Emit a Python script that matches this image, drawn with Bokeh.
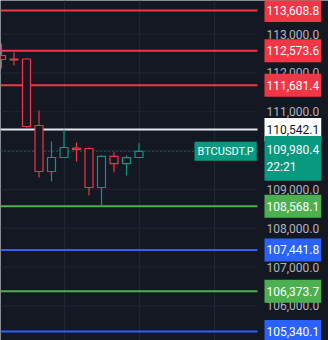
from bokeh.plotting import figure
from bokeh.models import ColumnDataSource, Label, FixedTicker, Grid, Range1d
from bokeh.core.properties import value
from bokeh.embed import file_html
from bokeh.resources import INLINE

# ---- data ----
candle_idx = [0, 1, 2, 3, 4, 5, 6, 7, 8, 9, 10, 11]
opens  = [112449, 112359, 112359, 110646, 109461, 109822, 110061, 110054, 109049, 109852, 109662, 109822]
highs  = [112758, 112526, 112372, 111032, 110234, 110543, 110208, 110079, 109873, 109958, 109873, 110190]
lows   = [112114, 112192, 110594, 109307, 109203, 109822, 109719, 108843, 108560, 109443, 109358, 109822]
closes = [112346, 112333, 110620, 109461, 109822, 110079, 110028, 109049, 109852, 109662, 109817, 109980.4]

level_prices = [113608.8, 112573.6, 111681.4, 110542.1, 108568.1, 107441.8, 106373.7, 105340.1]
level_kinds = ["res", "res", "res", "pivot", "sup", "deep", "sup", "deep"]

current_price = 109980.4
current_countdown = "22:21"
symbol = "BTCUSDT.P"

price_ticks = [106000, 107000, 108000, 109000, 111000, 112000, 113000]
grid_ticks_y = [106000, 107000, 108000, 109000, 110000, 111000, 112000, 113000]
grid_ticks_x = [5, 11, 17]

# ---- styles / layout ----
BG = "#141823"
GRID = "#222632"
RED = "#f23645"
GREEN_C = "#089981"
kind_line = {"res": RED, "pivot": "#e6e8ee", "sup": "#4caf50", "deep": "#2962ff"}
kind_box = {"res": RED, "pivot": "#ffffff", "sup": "#4caf50", "deep": "#2962ff"}
kind_text = {"res": "#ffffff", "pivot": "#131722", "sup": "#ffffff", "deep": "#ffffff"}
FONT = "Roboto"
X0 = -0.08
PANE_END = 20.48   # right edge of the price pane (x units)
X1 = 26.16

p = figure(width=328, height=340, output_backend="svg", toolbar_location=None,
           x_axis_location=None, y_axis_location=None,
           x_range=Range1d(X0, X1), y_range=Range1d(105108, 113866),
           min_border=0)
p.background_fill_color = BG
p.border_fill_color = BG
p.outline_line_color = None
p.xgrid.visible = False
p.ygrid.visible = False

# vertical grid
p.add_layout(Grid(dimension=0, ticker=FixedTicker(ticks=grid_ticks_x), grid_line_color=GRID, grid_line_width=1))
# horizontal grid, only across the price pane
p.segment(x0=[X0] * len(grid_ticks_y), x1=[PANE_END] * len(grid_ticks_y),
          y0=grid_ticks_y, y1=grid_ticks_y, line_color=GRID, line_width=1)

# tick labels of the price scale
p.text(x=[PANE_END + 0.72] * len(price_ticks), y=price_ticks,
       text=[f"{t:,.1f}" for t in price_ticks],
       text_font=value(FONT), text_font_size="12px", text_color="#b2b5be",
       text_align="left", text_baseline="middle")

# level lines
lsrc = ColumnDataSource(dict(x0=[X0] * len(level_prices), x1=[PANE_END] * len(level_prices),
                             y=level_prices, color=[kind_line[k] for k in level_kinds]))
p.segment(x0="x0", x1="x1", y0="y", y1="y", line_color="color", line_width=2, source=lsrc)

# current price dotted line
p.segment(x0=[X0], x1=[PANE_END], y0=[current_price], y1=[current_price],
          line_color=GREEN_C, line_width=1, line_dash="1 3")

# candles
colors = [GREEN_C if c >= o else RED for o, c in zip(opens, closes)]
csrc = ColumnDataSource(dict(x=candle_idx, o=opens, h=highs, l=lows, c=closes,
                             top=[max(o, c) for o, c in zip(opens, closes)],
                             bot=[min(o, c) for o, c in zip(opens, closes)],
                             color=colors))
p.segment(x0="x", y0="h", x1="x", y1="l", line_color="color", line_width=1.2, source=csrc)
p.vbar(x="x", top="top", bottom="bot", width=0.64, fill_color=BG, line_color="color",
       line_width=1.2, source=csrc)

# price labels
for v, k in zip(level_prices, level_kinds):
    p.add_layout(Label(x=264, y=v, x_units="screen", y_units="data", text=f"{v:,.1f}",
                       text_font=FONT, text_font_size="12px", text_color=kind_text[k],
                       text_align="left", text_baseline="middle",
                       background_fill_color=kind_box[k], padding=(2, 7)))

p.add_layout(Label(x=264, y=current_price, x_units="screen", y_units="data",
                   text=f"{current_price:,.1f}\n{current_countdown}", y_offset=-7,
                   text_font=FONT, text_font_size="12px", text_color="#ffffff",
                   text_align="left", text_baseline="middle",
                   background_fill_color=GREEN_C, padding=(2, 7)))
p.add_layout(Label(x=194, y=current_price, x_units="screen", y_units="data",
                   text=symbol, text_font=FONT, text_font_size="11px", text_color="#ffffff",
                   text_align="left", text_baseline="middle",
                   background_fill_color=GREEN_C, padding=(3, 3)))

open("out.html", "w").write(file_html(p, INLINE))
